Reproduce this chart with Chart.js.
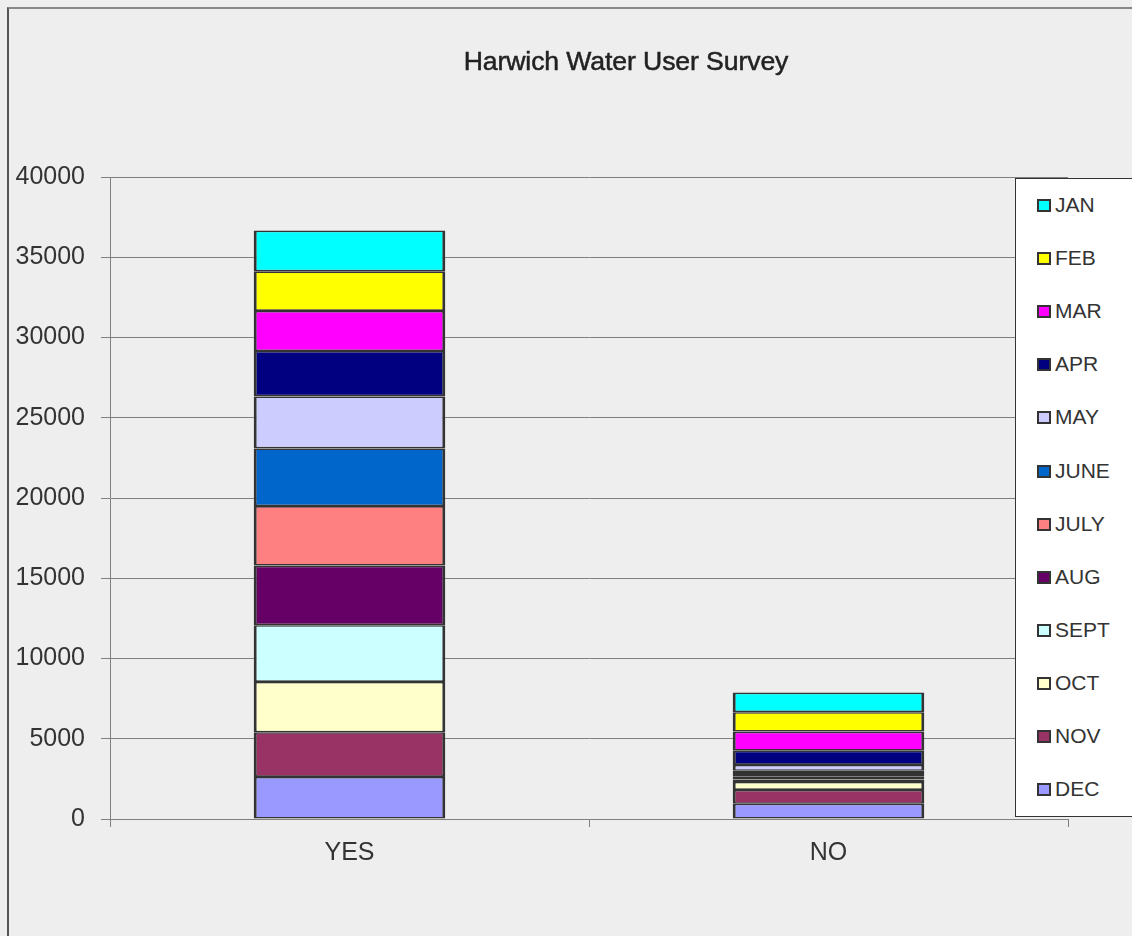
<!DOCTYPE html>
<html>
<head>
<meta charset="utf-8">
<script src="https://cdn.jsdelivr.net/npm/chart.js@4.4.1/dist/chart.umd.min.js"></script>
<style>
  html, body { margin: 0; padding: 0; background: #EEEEEE; width: 1132px; height: 936px; overflow: hidden; font-family: "Liberation Sans", Arial, sans-serif; }
  #frame { position: absolute; left: 7px; top: 7px; width: 1300px; height: 1100px; border-left: 2px solid #555; border-top: 2px solid #888; box-sizing: border-box; }
  #wrap { position: absolute; left: 0; top: 0; width: 1132px; height: 936px; }
  #title { position: absolute; left: 426px; top: 48px; width: 400px; text-align: center; font-size: 26.6px; line-height: 26px; color: #222; -webkit-text-stroke: 0.5px #222; letter-spacing: -0.1px; }
  #legend { position: absolute; left: 1015px; top: 178px; width: 140px; height: 639px; background: #fff; border: 1px solid #333; box-sizing: border-box; }
  .item { height: 53.1px; display: flex; align-items: center; }
  .sw { width: 10px; height: 9px; border: 2px solid #333; margin-left: 21px; margin-right: 4px; }
  .lt { font-size: 21px; line-height: 21px; color: #333; position: relative; top: -1px; }
</style>
</head>
<body>
<div id="frame"></div>
<div id="wrap"><canvas id="c" width="1132" height="936"></canvas></div>
<div id="title">Harwich Water User Survey</div>
<div id="legend"></div>
<script>
const categories = ['YES', 'NO'];
const months = ['DEC', 'NOV', 'OCT', 'SEPT', 'AUG', 'JULY', 'JUNE', 'MAY', 'APR', 'MAR', 'FEB', 'JAN'];
const yesValues = [2620, 2785, 3136, 3535, 3716, 3704, 3591, 3242, 2830, 2494, 2469, 2538];
const noValues  = [950, 860, 500, 150, 170, 180, 190, 370, 890, 1185, 1209, 1222];
const colors = ['#9999FF', '#993366', '#FFFFCC', '#CCFFFF', '#660066', '#FF8080', '#0066CC', '#CCCCFF', '#000080', '#FF00FF', '#FFFF00', '#00FFFF'];
const yTicks = [0, 5000, 10000, 15000, 20000, 25000, 30000, 35000, 40000];

const datasets = months.map((m, i) => ({
  label: m,
  data: [yesValues[i], noValues[i]],
  backgroundColor: colors[i],
  borderColor: '#333333',
  borderWidth: { top: 1.6, bottom: 1.6, left: 3, right: 3 },
  borderSkipped: false,
  categoryPercentage: 1.0,
  barPercentage: 0.4
}));

new Chart(document.getElementById('c'), {
  type: 'bar',
  data: { labels: categories, datasets },
  options: {
    responsive: false,
    animation: false,
    layout: { padding: { left: 0, right: 64, top: 177, bottom: 0 } },
    plugins: { legend: { display: false }, title: { display: false }, tooltip: { enabled: false } },
    scales: {
      x: {
        stacked: true,
        afterFit: (s) => { s.height = 117; },
        grid: { display: true, drawOnChartArea: false, drawTicks: true, tickLength: 8, color: '#808080', offset: true },
        border: { display: true, color: '#808080', width: 1 },
        ticks: { color: '#333', font: { family: '"Liberation Sans", Arial, sans-serif', size: 25 }, padding: 11 }
      },
      y: {
        stacked: true,
        min: 0, max: 40000,
        afterFit: (s) => { s.width = 110; },
        afterBuildTicks: (s) => { s.ticks = yTicks.map(v => ({ value: v })); },
        grid: { display: true, drawOnChartArea: true, drawTicks: true, tickLength: 9, color: '#808080' },
        border: { display: true, color: '#808080', width: 1 },
        ticks: { color: '#333', font: { family: '"Liberation Sans", Arial, sans-serif', size: 25 }, padding: 16, callback: (v) => String(v) }
      }
    }
  }
});

const legend = document.getElementById('legend');
for (let i = months.length - 1; i >= 0; i--) {
  const it = document.createElement('div');
  it.className = 'item';
  const sw = document.createElement('div');
  sw.className = 'sw';
  sw.style.background = colors[i];
  const t = document.createElement('span');
  t.className = 'lt';
  t.textContent = months[i];
  it.appendChild(sw); it.appendChild(t);
  legend.appendChild(it);
}
</script>
</body>
</html>
